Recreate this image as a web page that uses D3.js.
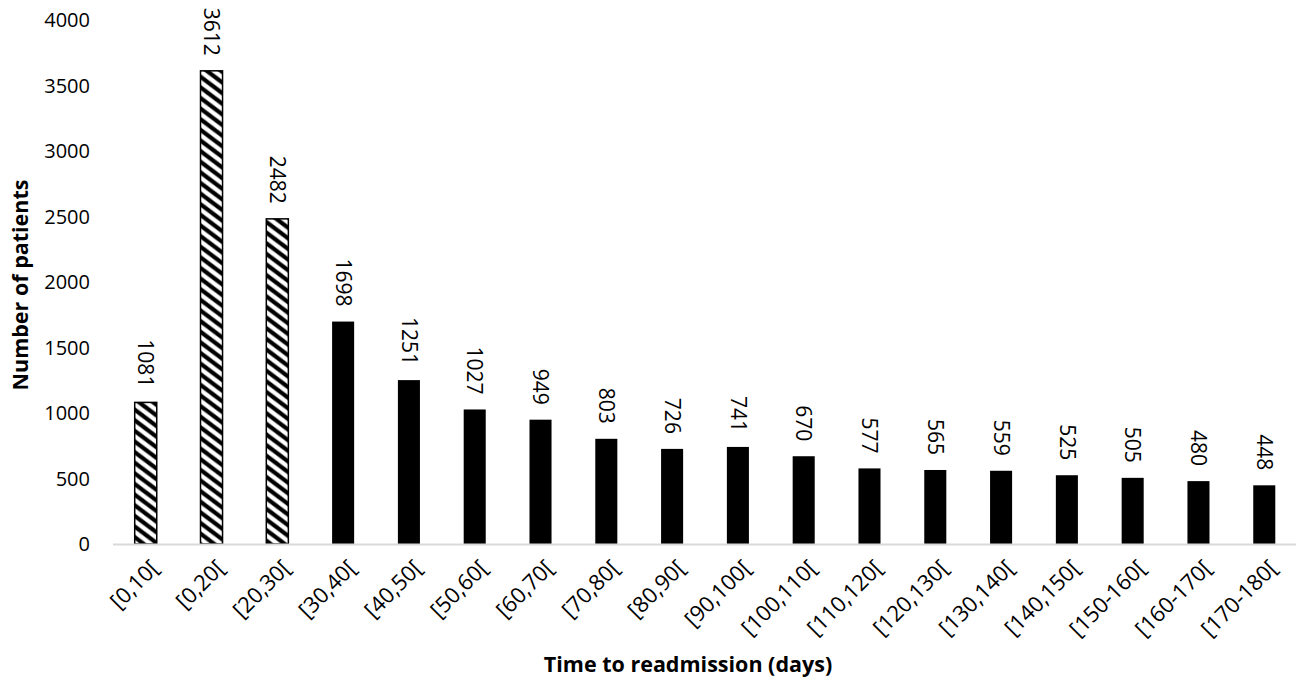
<!DOCTYPE html>
<html><head><meta charset="utf-8">
<script src="https://cdn.jsdelivr.net/npm/d3@7"></script>
<style>body{margin:0;background:#fff;} text{font-family:"Open Sans",sans-serif;}</style>
</head><body><svg id="c" width="1296" height="680"></svg>
<script>
const categories = ["[0,10[","[0,20[","[20,30[","[30,40[","[40,50[","[50,60[","[60,70[","[70,80[","[80,90[","[90,100[","[100,110[","[110,120[","[120,130[","[130,140[","[140,150[","[150-160[","[160-170[","[170-180["];
const values = [1081,3612,2482,1698,1251,1027,949,803,726,741,670,577,565,559,525,505,480,448];
const hatched = [true,true,true,false,false,false,false,false,false,false,false,false,false,false,false,false,false,false];
const yTicks = [0,500,1000,1500,2000,2500,3000,3500,4000];

const svg = d3.select("#c");
const defs = svg.append("defs");
const pat = defs.append("pattern").attr("id","hatch").attr("patternUnits","userSpaceOnUse")
  .attr("width",12).attr("height",12).attr("patternTransform","rotate(-8)");
pat.append("rect").attr("width",12).attr("height",12).attr("fill","#fff");
pat.append("path").attr("d","M-3,-3 L15,15 M-3,9 L3,15 M9,-3 L15,3").attr("stroke","#000").attr("stroke-width",4.2);

const x = d3.scaleBand().domain(categories).range([113,1297]).paddingInner(0.665).paddingOuter(0.33);
const y = d3.scaleLinear().domain([0,4000]).range([544,20]);

// y axis labels
svg.append("g").selectAll("text").data(yTicks).join("text")
  .attr("x",90).attr("y",d=>y(d)).attr("dy","0.35em").attr("text-anchor","end")
  .attr("font-size",20).attr("fill","#000").text(d=>d);

// bars
svg.append("g").selectAll("rect").data(values).join("rect")
  .attr("x",(d,i)=>x(categories[i])).attr("width",x.bandwidth())
  .attr("y",d=>y(d)).attr("height",d=>y(0)-y(d))
  .attr("fill",(d,i)=>hatched[i]?"url(#hatch)":"#000")
  .attr("stroke","#000").attr("stroke-width",(d,i)=>hatched[i]?1.5:0);

// axis line
svg.append("line").attr("x1",113).attr("x2",1296).attr("y1",y(0)+0.5).attr("y2",y(0)+0.5)
  .attr("stroke","#d9d9d9").attr("stroke-width",2);

// value labels
svg.append("g").selectAll("text").data(values).join("text")
  .attr("transform",(d,i)=>`translate(${x(categories[i])+x.bandwidth()/2},${y(d)-15}) rotate(90)`)
  .attr("text-anchor","end").attr("dy","0.35em").attr("font-size",21).attr("fill","#000").text(d=>d);

// category labels
svg.append("g").selectAll("text").data(categories).join("text")
  .attr("transform",d=>`translate(${x(d)+x.bandwidth()/2+9},${564}) rotate(-45)`)
  .attr("text-anchor","end").attr("dy","0.35em").attr("font-size",22).attr("fill","#000").text(d=>d);

// axis titles
svg.append("text").attr("transform","translate(20,285) rotate(-90)").attr("text-anchor","middle")
  .attr("dy","0.35em").attr("font-size",21.5).attr("font-weight","bold").text("Number of patients");
svg.append("text").attr("x",688).attr("y",664).attr("text-anchor","middle")
  .attr("dy","0.35em").attr("font-size",21.5).attr("font-weight","bold").text("Time to readmission (days)");
</script></body></html>
